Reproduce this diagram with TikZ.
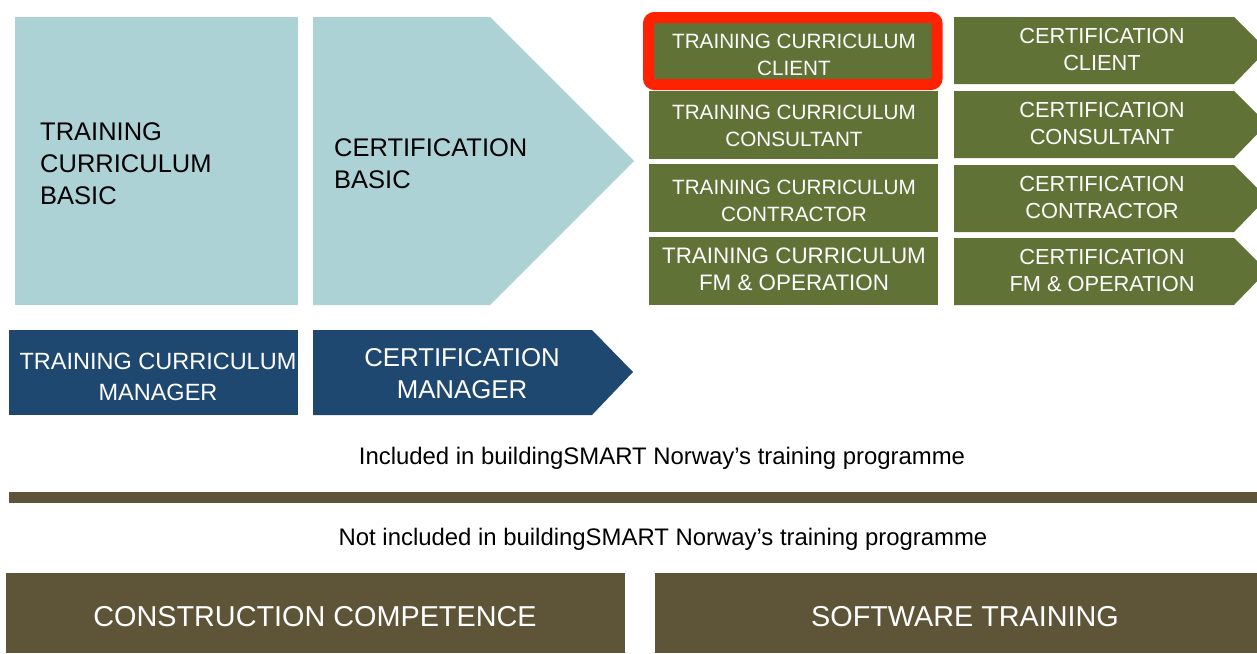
\documentclass[tikz,border=0pt]{standalone}
\usepackage{fontspec}
\setmainfont{Liberation Sans}
\definecolor{basicblue}{HTML}{ADD2D6}
\definecolor{rolegreen}{HTML}{617237}
\definecolor{managerblue}{HTML}{1F4870}
\definecolor{otherbrown}{HTML}{5E5539}
\definecolor{markred}{HTML}{FF2200}
\newcommand{\fsz}[2]{\fontsize{#1}{#2}\selectfont}

\begin{document}
\begin{tikzpicture}[x=1pt,y=-1pt,
	boxtext/.style={text=white, align=center, inner sep=0pt},
	basictext/.style={text=black, align=left, inner sep=0pt, anchor=west, font=\fsz{25.5}{32}},
	roletext/.style={boxtext, font=\fsz{20.7}{27}},
	certtext/.style={boxtext, font=\fsz{21.8}{27}},
	linetext/.style={text=black, inner sep=0pt, font=\fsz{23.9}{28}}]
	\useasboundingbox (0,0) rectangle (1257,653);
	\clip (0,0) rectangle (1257,653);
	
	% basic level
	\fill[basicblue] (15,17) rectangle (298,305);
	\node[basictext] (tcbasic) at (40,164) {TRAINING\\CURRICULUM\\BASIC};
	\fill[basicblue] (313,17) -- (490,17) -- (634,161) -- (490,305) -- (313,305) -- cycle;
	\node[basictext] (certbasic) at (334,164) {CERTIFICATION\\BASIC};
	
	% role specific curricula
	\draw[markred, line width=11pt, rounded corners=6pt, fill=rolegreen] (648.5,17.5) rectangle (937,84.5);
	\node[roletext] (tcclient) at (794,55) {TRAINING CURRICULUM\\CLIENT};
	\fill[rolegreen] (649,91) rectangle (938,159);
	\node[roletext] (tcconsultant) at (794,126) {TRAINING CURRICULUM\\CONSULTANT};
	\fill[rolegreen] (649,164) rectangle (938,232);
	\node[roletext] (tccontractor) at (794,200.5) {TRAINING CURRICULUM\\CONTRACTOR};
	\fill[rolegreen] (649,237) rectangle (938,305);
	\node[roletext, font=\fsz{22.4}{27}] (tcfm) at (794,269) {TRAINING CURRICULUM\\FM \& OPERATION};
	
	% role specific certifications
	\foreach \top/\role/\nm in {17/CLIENT/client, 91/CONSULTANT/consultant, 165/CONTRACTOR/contractor, 238/FM \& OPERATION/fm}{
		\fill[rolegreen] (954,\top) -- (1234,\top) -- (1267,\top+33) -- (1234,\top+67) -- (954,\top+67) -- cycle;
		\node[certtext] (cert\nm) at (1102,\top+32) {CERTIFICATION\\\role};
	}
	
	% manager
	\fill[managerblue] (9,330) rectangle (298,415);
	\node[boxtext, font=\fsz{23.5}{31}] (tcmanager) at (158,377) {TRAINING CURRICULUM\\MANAGER};
	\fill[managerblue] (313,330) -- (592,330) -- (633,372) -- (592,415) -- (313,415) -- cycle;
	\node[boxtext, font=\fsz{25.8}{32}] (certmanager) at (462,373.5) {CERTIFICATION\\MANAGER};
	
	% dividing line
	\node[linetext] (included) at (662,458) {Included in buildingSMART Norway’s training programme};
	\fill[otherbrown] (9,492) rectangle (1257,503);
	\node[linetext] (notincluded) at (663,539) {Not included in buildingSMART Norway’s training programme};
	
	% outside the programme
	\fill[otherbrown] (6,573) rectangle (625,653);
	\node[boxtext, font=\fsz{28.8}{32}] (construction) at (315,617) {CONSTRUCTION COMPETENCE};
	\fill[otherbrown] (655,573) rectangle (1257,653);
	\node[boxtext, font=\fsz{28.8}{32}] (software) at (965,617) {SOFTWARE TRAINING};
\end{tikzpicture}
\end{document}
